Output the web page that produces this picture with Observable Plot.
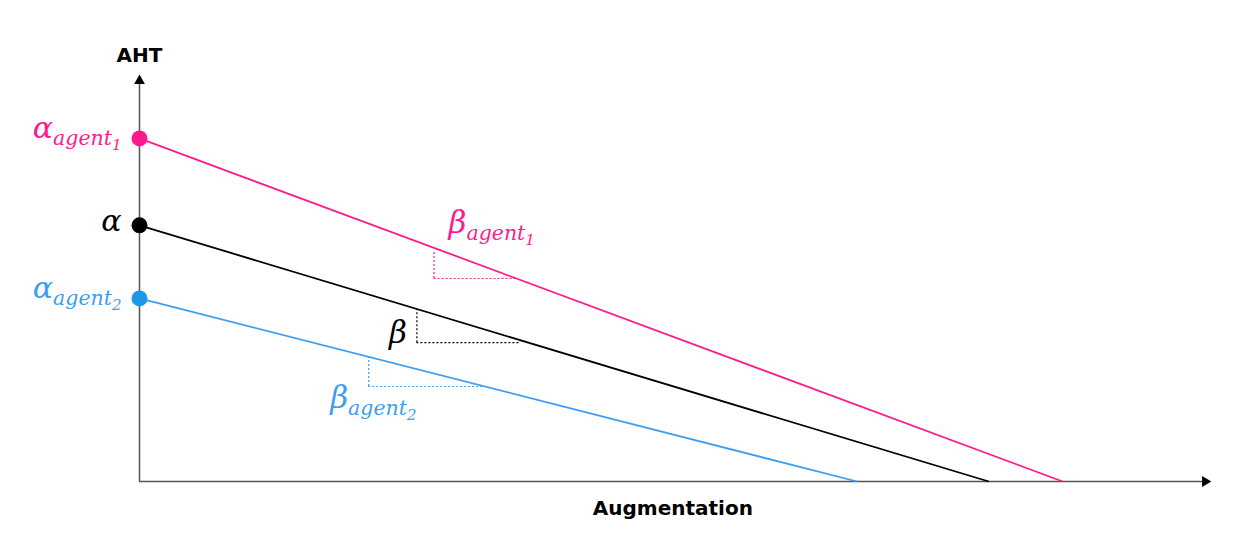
<!DOCTYPE html>
<html><head><meta charset="utf-8">
<script src="https://cdn.jsdelivr.net/npm/d3@7"></script>
<script src="https://cdn.jsdelivr.net/npm/@observablehq/plot@0.6"></script>
<style>body{margin:0;background:#fff}</style>
</head><body><div id="chart"></div>
<script>
// Series: agent 1 (pink), overall (black), agent 2 (blue)
const series = ["agent1", "overall", "agent2"];
const colors = ["#ff1a8c", "#000000", "#3d9ef0"];
const dotColors = ["#ff1a8c", "#000000", "#1a9ae6"];
const intercepts = [84.5, 63.1, 45.1];      // AHT at zero augmentation
const xIntercepts = [86.2, 79.3, 67.0];     // where each line reaches zero
// slope triangles
const triX0 = [27.5, 25.9, 21.4];
const triX1 = [35.3, 35.6, 32.2];
const triYBase = [50.0, 34.2, 23.4];
const triYTop = [56.9, 42.3, 30.8];
// labels
const alphaLabels = ["α|agent|1", "α", "α|agent|2"];
const alphaY = [84.7, 61.6, 45.3];
const betaLabels = ["β|agent|1", "β", "β|agent|2"];
const betaX = [28.85, 23.3, 17.8];
const betaY = [61.3, 34.2, 18.0];

const idx = series.map((_, i) => i);
const serif = "DejaVu Serif";

const chart = Plot.plot({
  width: 1245, height: 560,
  marginLeft: 139, marginRight: 35, marginTop: 75, marginBottom: 79,
  x: {domain: [0, 100], axis: null},
  y: {domain: [0, 100], axis: null},
  marks: [
    // axes
    Plot.ruleX([0], {y1: 0, y2: 98.5, stroke: "#555", strokeWidth: 1.5}),
    Plot.ruleY([0], {x1: 0, x2: 99.4, stroke: "#555", strokeWidth: 1.5}),
    Plot.dot([0], {x: 0, y: 98.7, symbol: "triangle", r: 4, fill: "#000", stroke: null}),
    Plot.dot([0], {x: 99.5, y: 0, symbol: "triangle", r: 4, fill: "#000", stroke: null, rotate: 90}),
    // slope triangles
    Plot.ruleX(idx, {x: i => triX0[i], y1: i => triYBase[i], y2: i => triYTop[i], stroke: i => colors[i], strokeWidth: 1.2, strokeDasharray: "2,2"}),
    Plot.ruleY(idx, {y: i => triYBase[i], x1: i => triX0[i], x2: i => triX1[i], stroke: i => colors[i], strokeWidth: 1.2, strokeDasharray: "2,2"}),
    // lines
    Plot.link(idx, {x1: 0, y1: i => intercepts[i], x2: i => xIntercepts[i], y2: 0, stroke: i => colors[i], strokeWidth: 1.8}),
    // intercept dots
    Plot.dot(idx, {x: 0, y: i => intercepts[i], r: 8, fill: i => dotColors[i], stroke: null}),
    // alpha labels
    Plot.text(idx, {x: 0, y: i => alphaY[i], text: i => alphaLabels[i], dx: -18, textAnchor: "end", lineAnchor: "bottom", fill: i => colors[i], fontFamily: serif, fontStyle: "italic", fontSize: 30}),
    // beta labels
    Plot.text(idx, {x: i => betaX[i], y: i => betaY[i], text: i => betaLabels[i], textAnchor: "start", lineAnchor: "bottom", fill: i => colors[i], fontFamily: serif, fontStyle: "italic", fontSize: 31}),
    // axis titles
    Plot.text(["AHT"], {x: 0, y: 100, dy: -14, text: d => d, lineAnchor: "bottom", fontFamily: "DejaVu Sans", fontWeight: 700, fontSize: 20, fill: "#000"}),
    Plot.text(["Augmentation"], {x: 49.8, y: 0, dy: 33, text: d => d, lineAnchor: "bottom", fontFamily: "DejaVu Sans", fontWeight: 700, fontSize: 20, fill: "#000"})
  ]
});

// subscripts
d3.select(chart).selectAll("text").each(function() {
  const t = this.textContent;
  if (!t.includes("|")) return;
  const [base, sub, subsub] = t.split("|");
  const sel = d3.select(this);
  sel.text(null);
  sel.append("tspan").text(base);
  sel.append("tspan").attr("font-size", 20.5).attr("dy", 7).text(sub);
  sel.append("tspan").attr("font-size", 15).attr("dy", 5).text(subsub);
});

document.getElementById("chart").appendChild(chart);
</script>
</body></html>
